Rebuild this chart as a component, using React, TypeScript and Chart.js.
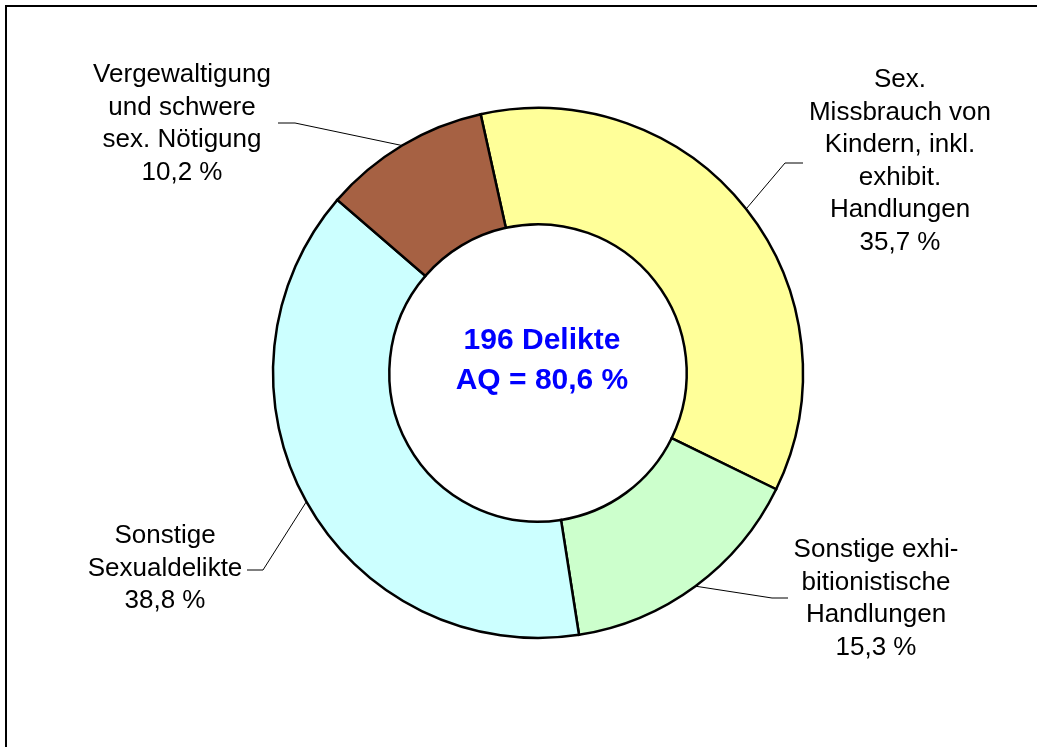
import React, { useEffect, useRef } from "react";
import { Chart, registerables } from "chart.js";

Chart.register(...registerables);

const categories = [
  ["Sex.", "Missbrauch von", "Kindern, inkl.", "exhibit.", "Handlungen"],
  ["Sonstige exhi-", "bitionistische", "Handlungen"],
  ["Sonstige", "Sexualdelikte"],
  ["Vergewaltigung", "und schwere", "sex. Nötigung"],
];
const shares = [35.7, 15.3, 38.8, 10.2];
const shareLabels = ["35,7 %", "15,3 %", "38,8 %", "10,2 %"];
const colors = ["#FFFF99", "#CCFFCC", "#CCFFFF", "#A66143"];
const centerLines = ["196 Delikte", "AQ = 80,6 %"];

// label layout: text center x, first line middle y, elbow point, end point of leader
const labelLayout = [
  { x: 900, y: 80, elbow: [785, 163], end: [803, 163] },
  { x: 876, y: 550, elbow: [772, 598], end: [788, 598] },
  { x: 165, y: 536, elbow: [263, 570], end: [247, 570] },
  { x: 182, y: 75, elbow: [295, 123], end: [278, 123] },
];

const FONT = '"Liberation Sans", Arial, Helvetica, sans-serif';

const overlay = {
  id: "overlay",
  afterDraw(chart: any) {
    const ctx = chart.ctx;
    ctx.save();
    // frame
    ctx.strokeStyle = "#000";
    ctx.lineWidth = 2;
    ctx.strokeRect(6, 6, 1200, 1000);

    const meta = chart.getDatasetMeta(0);
    meta.data.forEach((arc: any, i: number) => {
      const mid = (arc.startAngle + arc.endAngle) / 2;
      const px = arc.x + Math.cos(mid) * arc.outerRadius;
      const py = arc.y + Math.sin(mid) * arc.outerRadius;
      const L = labelLayout[i];
      ctx.strokeStyle = "#000";
      ctx.lineWidth = 1;
      ctx.beginPath();
      ctx.moveTo(px, py);
      ctx.lineTo(L.elbow[0], L.elbow[1]);
      ctx.lineTo(L.end[0], L.end[1]);
      ctx.stroke();

      ctx.fillStyle = "#000";
      ctx.font = `26px ${FONT}`;
      ctx.textAlign = "center";
      ctx.textBaseline = "middle";
      const lines = [...categories[i], shareLabels[i]];
      lines.forEach((t, k) => ctx.fillText(t, L.x, L.y + k * 32.5));
    });

    ctx.fillStyle = "#0000FF";
    ctx.font = `bold 30px ${FONT}`;
    ctx.textAlign = "center";
    ctx.textBaseline = "middle";
    ctx.fillText(centerLines[0], 542, 341);
    ctx.fillText(centerLines[1], 542, 381);
    ctx.restore();
  },
};

export default function App() {
  const ref = useRef<HTMLCanvasElement>(null);
  useEffect(() => {
    document.body.style.margin = "0";
    const chart = new Chart(ref.current!, {
      type: "doughnut",
      data: {
        labels: categories.map((c) => c.join(" ")),
        datasets: [
          {
            data: shares,
            backgroundColor: colors,
            borderColor: "#000",
            borderWidth: 2.5,
            borderJoinStyle: "miter",
          },
        ],
      },
      options: {
        animation: false,
        responsive: false,
        rotation: -12.5,
        radius: 265,
        cutout: 148,
        layout: { padding: { left: 200, right: 161, top: 108, bottom: 109 } },
        plugins: { legend: { display: false }, tooltip: { enabled: false } },
      },
      plugins: [overlay],
    });
    return () => chart.destroy();
  }, []);
  return (
    <div style={{ position: "absolute", left: 0, top: 0, width: 1037, height: 747, background: "#fff" }}>
      <canvas ref={ref} width={1037} height={747} />
    </div>
  );
}
